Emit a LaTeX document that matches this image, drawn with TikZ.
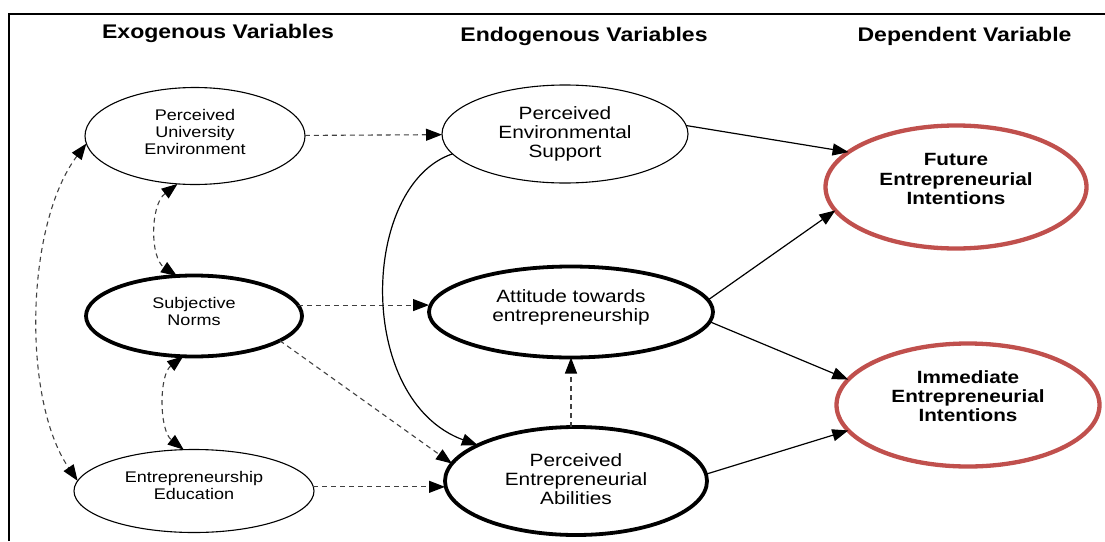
\documentclass[tikz,border=0pt]{standalone}
\usepackage{fontspec}
\setmainfont{Liberation Sans}[FakeStretch=1.17]
\usetikzlibrary{shapes.geometric,arrows.meta}
\definecolor{outred}{HTML}{C0504D}
\definecolor{dashgray}{HTML}{404040}
\begin{document}
\begin{tikzpicture}[x=1pt,y=-1pt,
  every node/.style={inner sep=0pt, outer sep=0pt, align=center},
  thinvar/.style={ellipse, draw, line width=1.1pt},
  thickvar/.style={ellipse, draw, line width=3.8pt},
  outcome/.style={ellipse, draw=outred, line width=4.3pt},
  smalltext/.style={font=\fontsize{15.4}{17}\selectfont},
  bigtext/.style={font=\fontsize{17.8}{19.2}\selectfont},
  boldtext/.style={font=\bfseries\fontsize{17.7}{19.2}\selectfont},
  header/.style={font=\bfseries\fontsize{19.7}{22}\selectfont, anchor=base},
  tip/.style={-{Triangle[length=16pt,width=12pt,color=black]}},
  bothtips/.style={{Triangle[length=16pt,width=12pt,color=black]}-{Triangle[length=16pt,width=12pt,color=black]}},
  dashlink/.style={draw=dashgray, line width=1.1pt, dash pattern=on 5pt off 4pt},
  solidlink/.style={draw=black, line width=1.2pt}
]
\useasboundingbox (0,0) rectangle (1105,541);

% frame
\draw[line width=2.5pt] (9,541) -- (9,14) -- (1105,14);

% column headings
\node[header] (hexo) at (218,38) {Exogenous Variables};
\node[header] (hendo) at (584,41.5) {Endogenous Variables};
\node[header] (hdep) at (964.5,41.5) {Dependent Variable};

% exogenous variables
\node[thinvar, minimum width=220pt, minimum height=97pt] (pue) at (195,136) {};
\node[smalltext] (pue-t) at (195,132) {Perceived\\University\\Environment};
\node[thickvar, minimum width=216pt, minimum height=81pt] (sn) at (194,316) {};
\node[smalltext] (sn-t) at (194,311) {Subjective\\Norms};
\node[thinvar, minimum width=240pt, minimum height=83pt] (ee) at (194,491) {};
\node[smalltext] (ee-t) at (194,485) {Entrepreneurship\\Education};

% endogenous variables
\node[thinvar, minimum width=246pt, minimum height=98pt] (pes) at (565,134) {};
\node[bigtext] (pes-t) at (565,134) {Perceived\\Environmental\\Support};
\node[thickvar, minimum width=284pt, minimum height=91pt] (ate) at (571,312) {};
\node[bigtext] (ate-t) at (571,307) {Attitude towards\\entrepreneurship};
\node[thickvar, minimum width=262pt, minimum height=108pt] (pea) at (576,481) {};
\node[bigtext] (pea-t) at (576,479) {Perceived\\Entrepreneurial\\Abilities};

% dependent variables
\node[outcome, minimum width=261pt, minimum height=123pt] (fei) at (956,187) {};
\node[boldtext] (fei-t) at (956,179) {Future\\Entrepreneurial\\Intentions};
\node[outcome, minimum width=263pt, minimum height=123pt] (iei) at (968,405) {};
\node[boldtext] (iei-t) at (968,396) {Immediate\\Entrepreneurial\\Intentions};

% correlations among exogenous variables
\draw[dashlink, bothtips] (pue.250) .. controls (150,205) and (150,258) .. (sn.113);
\draw[dashlink, bothtips] (sn.255) .. controls (159,375) and (159,430) .. (ee.104);
\draw[dashlink, bothtips] (pue.184) .. controls (25,225) and (22,400) .. (ee.175);

% exogenous to endogenous
\draw[dashlink, tip] (pue) -- (pes);
\draw[dashlink, tip] (sn.6) -- (sn.6 -| ate.west);
\draw[dashlink, tip] (ee.2) -- (ee.2 -| pea.west);
\draw[dashlink, tip] (sn.-16) -- (pea.172);
\draw[dashlink, tip] (ate.south |- pea.north) -- (ate.south);

% endogenous paths
\draw[solidlink, tip] (pes.190) .. controls (360,185) and (355,400) .. (pea.160);
\draw[solidlink, tip] (pes.4) -- (fei.162);
\draw[solidlink, tip] (ate.5) -- (fei.191);
\draw[solidlink, tip] (ate.-4) -- (iei.168);
\draw[solidlink, tip] (pea.3) -- (iei.192);
\end{tikzpicture}
\end{document}
